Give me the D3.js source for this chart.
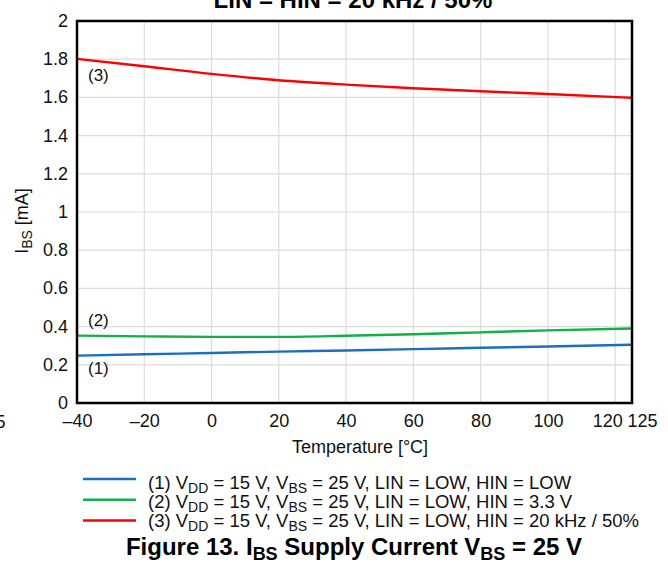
<!DOCTYPE html>
<html>
<head>
<meta charset="utf-8">
<script src="https://cdn.jsdelivr.net/npm/d3@7"></script>
<style>
  body { margin: 0; background: #fff; }
  svg { font-family: "Liberation Sans", Arial, sans-serif; }
  .grid line { stroke: #dcdcdc; stroke-width: 1.2; }
  .tick-label { font-size: 18px; fill: #111; }
</style>
</head>
<body>
<div id="chart"></div>
<script>
// chart data
const temps = [-40, -20, 0, 20, 40, 60, 80, 100, 125];
const seriesLow = [0.248, 0.255, 0.262, 0.269, 0.275, 0.282, 0.289, 0.296, 0.305];
const seriesHin33 = [0.353, 0.349, 0.346, 0.346, 0.352, 0.360, 0.370, 0.380, 0.390];
const seriesHin20k = [1.802, 1.763, 1.723, 1.690, 1.667, 1.648, 1.632, 1.618, 1.598];
const seriesNames = ["(1)", "(2)", "(3)"];
const seriesColors = ["#1a6fc0", "#10b04a", "#ff0000"];
const xTicks = [-40, -20, 0, 20, 40, 60, 80, 100, 120, 125];
const yTicks = [0, 0.2, 0.4, 0.6, 0.8, 1, 1.2, 1.4, 1.6, 1.8, 2];
const legendTexts = [
  ["(1) V", "DD", " = 15 V, V", "BS", " = 25 V, LIN = LOW, HIN = LOW"],
  ["(2) V", "DD", " = 15 V, V", "BS", " = 25 V, LIN = LOW, HIN = 3.3 V"],
  ["(3) V", "DD", " = 15 V, V", "BS", " = 25 V, LIN = LOW, HIN = 20 kHz / 50%"]
];

const width = 668, height = 563;
const margin = { left: 77, right: 36, top: 21, bottom: 160 };
const innerWidth = width - margin.left - margin.right;
const innerHeight = height - margin.top - margin.bottom;

const svg = d3.select("#chart").append("svg")
  .attr("width", width)
  .attr("height", height);

const xScale = d3.scaleLinear().domain([-40, 125]).range([0, innerWidth]);
const yScale = d3.scaleLinear().domain([0, 2]).range([innerHeight, 0]);

const inner = svg.append("g")
  .attr("transform", `translate(${margin.left}, ${margin.top})`);

// grid lines
inner.append("g").attr("class", "grid")
  .selectAll("line.v")
  .data(xTicks.filter(d => d > -40 && d < 125))
  .join("line")
  .attr("x1", d => xScale(d)).attr("x2", d => xScale(d))
  .attr("y1", 0).attr("y2", innerHeight);

inner.append("g").attr("class", "grid")
  .selectAll("line.h")
  .data(yTicks.filter(d => d > 0 && d < 2))
  .join("line")
  .attr("x1", 0).attr("x2", innerWidth)
  .attr("y1", d => yScale(d)).attr("y2", d => yScale(d));

// axes (labels only, frame drawn separately)
const bottomAxis = d3.axisBottom(xScale)
  .tickValues(xTicks)
  .tickSize(0)
  .tickPadding(11.5)
  .tickFormat(d => d < 0 ? "\u2013" + Math.abs(d) : d);
const xAxisG = inner.append("g")
  .attr("transform", `translate(0, ${innerHeight})`)
  .call(bottomAxis);
xAxisG.select(".domain").remove();
xAxisG.selectAll("text").attr("class", "tick-label").attr("font-size", null)
  .attr("font-family", null)
  // the last two labels are pushed apart so they do not collide
  .attr("dx", d => d === 120 ? -8 : d === 125 ? 10 : 0);

const leftAxis = d3.axisLeft(yScale)
  .tickValues(yTicks)
  .tickSize(0)
  .tickPadding(9)
  .tickFormat(d => d3.format("~g")(d));
const yAxisG = inner.append("g").call(leftAxis);
yAxisG.select(".domain").remove();
yAxisG.selectAll("text").attr("class", "tick-label").attr("font-size", null)
  .attr("font-family", null).attr("dy", "0.3em");

// stray clipped label at the far left
svg.append("text")
  .attr("class", "tick-label")
  .attr("x", 5.5).attr("y", 427.5)
  .attr("text-anchor", "end")
  .text("5");

// data lines
const allSeries = [seriesLow, seriesHin33, seriesHin20k];
const lineGen = d3.line()
  .x((d, i) => xScale(temps[i]))
  .y(d => yScale(d))
  .curve(d3.curveMonotoneX);

inner.selectAll("path.series")
  .data(allSeries)
  .join("path")
  .attr("class", "series")
  .attr("fill", "none")
  .attr("stroke", (d, i) => seriesColors[i])
  .attr("stroke-width", 2.4)
  .attr("d", lineGen);

// curve labels
const curveLabels = [
  { name: seriesNames[0], x: 11, y: 374 - margin.top },
  { name: seriesNames[1], x: 11, y: 326 - margin.top },
  { name: seriesNames[2], x: 11, y: 81 - margin.top }
];
inner.selectAll("text.curve-label")
  .data(curveLabels)
  .join("text")
  .attr("class", "curve-label")
  .attr("x", d => d.x)
  .attr("y", d => d.y)
  .attr("font-size", 17)
  .attr("fill", "#111")
  .text(d => d.name);

// frame
inner.append("rect")
  .attr("x", 0).attr("y", 0)
  .attr("width", innerWidth).attr("height", innerHeight)
  .attr("fill", "none")
  .attr("stroke", "#000")
  .attr("stroke-width", 2.5);

// title (partly cut off at the top)
svg.append("text")
  .attr("x", 353)
  .attr("y", 7.5)
  .attr("text-anchor", "middle")
  .attr("font-size", 24)
  .attr("font-weight", "bold")
  .text("LIN = HIN = 20 kHz / 50%");

// x axis label
svg.append("text")
  .attr("x", 360)
  .attr("y", 453)
  .attr("text-anchor", "middle")
  .attr("font-size", 18)
  .attr("fill", "#111")
  .text("Temperature [\u00B0C]");

// y axis label
const yLabel = svg.append("text")
  .attr("transform", `translate(28, 221) rotate(-90)`)
  .attr("text-anchor", "middle")
  .attr("font-size", 18)
  .attr("fill", "#111");
yLabel.append("tspan").text("I");
yLabel.append("tspan").attr("font-size", 14).attr("dy", 4).text("BS");
yLabel.append("tspan").attr("dy", -4).text(" [mA]");

// legend
const legend = svg.append("g");
const legendRows = legend.selectAll("g")
  .data(legendTexts)
  .join("g")
  .attr("transform", (d, i) => `translate(0, ${488.5 + i * 19})`);

legendRows.append("line")
  .attr("x1", 83).attr("x2", 136)
  .attr("y1", (d, i) => -9.5 + i * 1.8).attr("y2", (d, i) => -9.5 + i * 1.8)
  .attr("stroke", (d, i) => seriesColors[i])
  .attr("stroke-width", 2.5);

const legendText = legendRows.append("text")
  .attr("x", 148)
  .attr("font-size", 18.5)
  .attr("fill", "#111");
legendText.each(function(parts) {
  const t = d3.select(this);
  parts.forEach((p, j) => {
    const isSub = j % 2 === 1;
    t.append("tspan")
      .attr("font-size", isSub ? 14 : null)
      .attr("dy", isSub ? 4 : (j > 0 ? -4 : 0))
      .text(p);
  });
});

// caption
const caption = svg.append("text")
  .attr("x", 354)
  .attr("y", 555)
  .attr("text-anchor", "middle")
  .attr("font-size", 24)
  .attr("font-weight", "bold");
const capParts = ["Figure 13. I", "BS", " Supply Current V", "BS", " = 25 V"];
capParts.forEach((p, j) => {
  const isSub = j % 2 === 1;
  caption.append("tspan")
    .attr("font-size", isSub ? 18 : null)
    .attr("dy", isSub ? 5 : (j > 0 ? -5 : 0))
    .text(p);
});
</script>
</body>
</html>
